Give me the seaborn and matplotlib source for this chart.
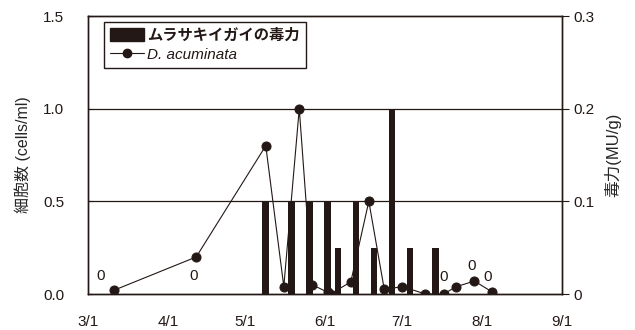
import pandas as pd
import matplotlib
matplotlib.use("Agg")
import matplotlib.pyplot as plt
from matplotlib.patches import Patch
from matplotlib.lines import Line2D
import seaborn as sns

# D. acuminata cell density (cells/ml)
cell_dates = ["2001-03-11", "2001-04-12", "2001-05-09", "2001-05-16", "2001-05-22",
              "2001-05-27", "2001-06-02", "2001-06-03", "2001-06-11", "2001-06-18",
              "2001-06-24", "2001-07-01", "2001-07-10", "2001-07-17", "2001-07-22",
              "2001-07-29", "2001-08-05"]
cell_values = [0.02, 0.20, 0.80, 0.04, 1.00,
               0.05, 0.01, 0.00, 0.065, 0.50,
               0.025, 0.04, 0.00, 0.00, 0.04,
               0.07, 0.01]

# Mussel toxicity (MU/g); zero values are marked with "0"
tox_dates = ["2001-03-06", "2001-04-11", "2001-05-09", "2001-05-19", "2001-05-26",
             "2001-06-02", "2001-06-06", "2001-06-13", "2001-06-20", "2001-06-27",
             "2001-07-04", "2001-07-14", "2001-07-17", "2001-07-28", "2001-08-03"]
tox_values = [0.0, 0.0, 0.1, 0.1, 0.1,
              0.1, 0.05, 0.1, 0.05, 0.2,
              0.05, 0.05, 0.0, 0.0, 0.0]
zero_label_lift = [13, 13, 13, 13, 13, 13, 13, 13, 13, 13, 13, 13, 12, 20, 12]

month_ticks = ["2001-03-01", "2001-04-01", "2001-05-01", "2001-06-01", "2001-07-01",
               "2001-08-01", "2001-09-01"]
month_labels = ["3/1", "4/1", "5/1", "6/1", "7/1", "8/1", "9/1"]
left_ticks = [0.0, 0.5, 1.0, 1.5]
left_labels = ["0.0", "0.5", "1.0", "1.5"]
right_ticks = [0.0, 0.1, 0.2, 0.3]
right_labels = ["0", "0.1", "0.2", "0.3"]

legend_tox = "ムラサキイガイの毒力"
legend_cells = "D. acuminata"
ylabel_left = "細胞数 (cells/ml)"
ylabel_right = "毒力(MU/g)"

INK = "#231815"

sns.set_style("white")
plt.rcParams["font.family"] = ["Liberation Sans", "Noto Sans CJK JP", "DejaVu Sans"]
plt.rcParams["axes.edgecolor"] = INK
plt.rcParams["text.color"] = INK
plt.rcParams["xtick.color"] = INK
plt.rcParams["ytick.color"] = INK

cells = pd.DataFrame({"date": pd.to_datetime(cell_dates), "cells": cell_values})
tox = pd.DataFrame({"date": pd.to_datetime(tox_dates), "tox": tox_values,
                    "lift": zero_label_lift})

fig = plt.figure(figsize=(6.35, 3.30), dpi=100)
ax = fig.add_axes([0.1386, 0.109, 0.7465, 0.8425])
ax2 = ax.twinx()

# Toxicity bars on the right axis, drawn underneath the cell line
ax2.bar(tox["date"], tox["tox"], width=2.6, color=INK, linewidth=0)
for d, v, lift in zip(tox["date"], tox["tox"], tox["lift"]):
    if v == 0:
        ax2.annotate("0", (d, 0), xytext=(0, lift), textcoords="offset points",
                     ha="center", va="center", fontsize=11, color=INK)

ax.set_zorder(ax2.get_zorder() + 1)
ax.patch.set_visible(False)

sns.lineplot(data=cells, x="date", y="cells", ax=ax, color=INK, linewidth=0.8,
             marker="o", markersize=6.5, markeredgecolor=INK, markerfacecolor=INK)

# Horizontal reference lines
for yv in [0.5, 1.0]:
    ax.axhline(yv, color=INK, linewidth=0.9, zorder=0)

ax.set_xlim(pd.Timestamp("2001-03-01"), pd.Timestamp("2001-09-01"))
ax.set_xticks(pd.to_datetime(month_ticks))
ax.set_xticklabels(month_labels, fontsize=11)
ax.set_ylim(0, 1.5)
ax.set_yticks(left_ticks)
ax.set_yticklabels(left_labels, fontsize=11)
ax2.set_ylim(0, 0.3)
ax2.set_yticks(right_ticks)
ax2.set_yticklabels(right_labels, fontsize=11)

ax.set_xlabel("")
ax.set_ylabel(ylabel_left, fontsize=11.5, labelpad=9)
ax2.set_ylabel(ylabel_right, fontsize=12, labelpad=7)

ax.tick_params(axis="x", direction="in", length=4, width=0.8, pad=15)
ax.tick_params(axis="y", direction="in", length=3, width=0.8, pad=17)
ax2.tick_params(axis="y", direction="out", length=5, width=0.8, pad=3)
for side in ["top", "bottom", "left", "right"]:
    ax.spines[side].set_linewidth(1.0)
    ax2.spines[side].set_linewidth(1.0)
    ax.spines[side].set_visible(True)
    ax2.spines[side].set_visible(True)

handles = [Patch(facecolor=INK, edgecolor=INK),
           Line2D([0], [0], color=INK, linewidth=0.8, marker="o", markersize=6)]
leg = ax.legend(handles, [legend_tox, legend_cells], loc="upper left",
                bbox_to_anchor=(0.034, 0.978), borderaxespad=0, frameon=True,
                fancybox=False, edgecolor=INK, framealpha=1, fontsize=11,
                handlelength=2.2, handleheight=0.9, handletextpad=0.2,
                borderpad=0.4, labelspacing=0.3)
leg.get_frame().set_linewidth(1.0)
texts = leg.get_texts()
texts[0].set_fontweight("bold")
texts[1].set_fontstyle("italic")

fig.savefig("out.png", dpi=100)
